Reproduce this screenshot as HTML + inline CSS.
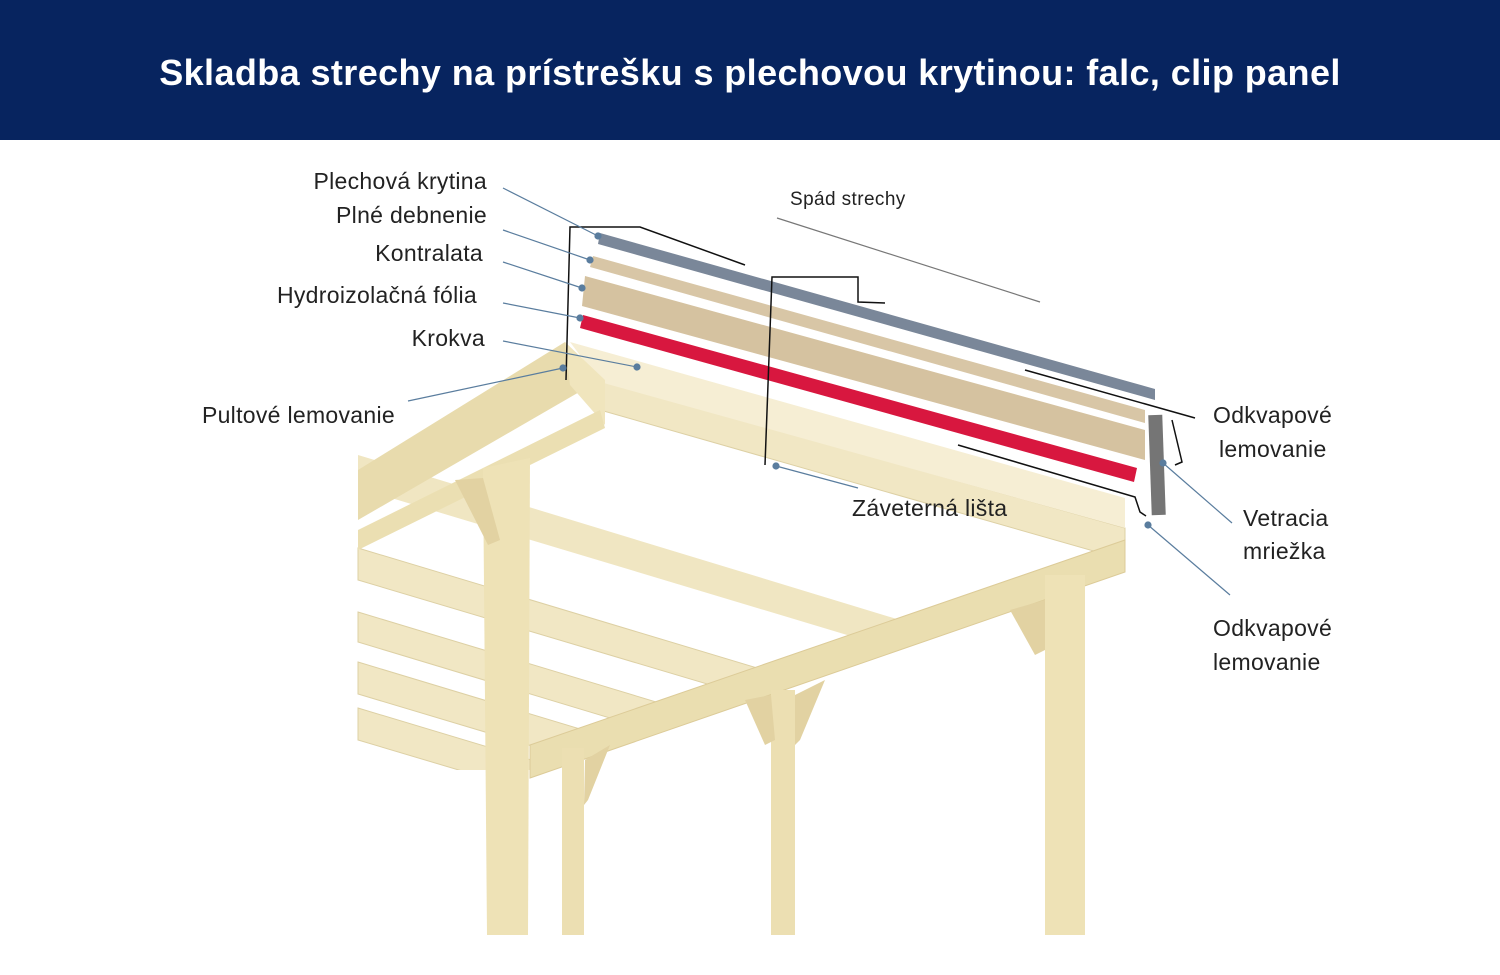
<!DOCTYPE html>
<html><head><meta charset="utf-8"><style>
html,body{margin:0;padding:0;background:#fff}
body{width:1500px;height:975px;overflow:hidden;position:relative;font-family:"Liberation Sans",sans-serif}
.hdr{position:absolute;left:0;top:0;width:1500px;height:140px;background:#07245f;color:#fff;font-weight:bold;font-size:36px;letter-spacing:0.4px;text-align:center;line-height:146px}
svg{position:absolute;left:0;top:0}
.l{font-size:23px;fill:#222;letter-spacing:0.3px}
</style></head><body>
<div class="hdr">Skladba strechy na prístrešku s plechovou krytinou: falc, clip panel</div>
<svg width="1500" height="975">
<defs><clipPath id="c"><polygon points="350,150 1130,150 1130,548 530,770 350,770"/></clipPath></defs>
<g clip-path="url(#c)">
 <polygon points="358,455 1130,690 1130,720 358,488" fill="#f0e6c2"/>
 <polygon points="358,548 1130,780 1130,810 358,580" fill="#f1e7c4" stroke="#ddd0a4"/>
 <polygon points="358,612 1130,845 1130,875 358,642" fill="#f1e7c4" stroke="#ddd0a4"/>
 <polygon points="358,662 1130,895 1130,925 358,694" fill="#f1e7c4" stroke="#ddd0a4"/>
 <polygon points="358,708 1130,940 1130,970 358,740" fill="#f1e7c4" stroke="#ddd0a4"/>
 <polygon points="600,380 1125,528 1125,560 600,410" fill="#f1e7c4" stroke="#ddd0a4"/>
</g>
<polygon points="570,342 1125,498 1125,528 600,382" fill="#f6eed4"/>
<polygon points="358,470 565,342 600,380 358,520" fill="#e8dbad"/>
<polygon points="565,342 605,380 605,425 570,385" fill="#f0e5bd"/>
<polygon points="358,530 600,410 605,428 358,550" fill="#ebdfb2"/>
<polygon points="530,745 1125,540 1125,572 530,778" fill="#eadeb0" stroke="#dccb98"/>
<polygon points="483,468 530,458 528,935 487,935" fill="#eee2b6"/>
<rect x="562" y="748" width="22" height="187" fill="#ecdfb2"/>
<rect x="771" y="690" width="24" height="245" fill="#ecdfb2"/>
<rect x="1045" y="575" width="40" height="360" fill="#eee2b6"/>
<polygon points="455,480 483,478 500,540 488,545" fill="#e2d2a2"/>
<polygon points="745,700 771,695 775,740 765,745" fill="#e2d2a2"/>
<polygon points="795,695 825,680 800,740 795,745" fill="#e2d2a2"/>
<polygon points="1010,610 1045,600 1045,650 1035,655" fill="#e2d2a2"/>
<polygon points="585,760 610,745 588,800 584,805" fill="#e2d2a2"/>
<polygon points="600,233 1155,389 1155,400 598,244" fill="#7a8799"/>
<polygon points="593,256 1145,410 1145,423 590,267" fill="#d8c6a6"/>
<polygon points="585,276 1145,430 1145,460 582,306" fill="#d5c2a0"/>
<polygon points="583,315 1137,468 1134,482 580,328" fill="#d8173f"/>
<rect x="1150" y="415" width="14" height="100" fill="#757575" transform="rotate(-2 1157 465)"/>
<g fill="none" stroke="#111" stroke-width="1.5">
 <polyline points="566,380 570,227 640,227 745,265"/>
 <polyline points="765,465 772,277 858,277 858,302 885,303"/>
 <polyline points="1025,370 1195,418"/>
 <polyline points="1172,420 1182,462 1175,465"/>
 <polyline points="958,445 1135,497 1140,512 1146,516"/>
</g>
<g stroke="#5a7d9e" stroke-width="1.2" fill="#5a7d9e">
 <line x1="503" y1="188" x2="598" y2="236"/><circle cx="598" cy="236" r="3"/>
 <line x1="503" y1="230" x2="590" y2="260"/><circle cx="590" cy="260" r="3"/>
 <line x1="503" y1="262" x2="582" y2="288"/><circle cx="582" cy="288" r="3"/>
 <line x1="503" y1="303" x2="580" y2="318"/><circle cx="580" cy="318" r="3"/>
 <line x1="503" y1="341" x2="637" y2="367"/><circle cx="637" cy="367" r="3"/>
 <line x1="408" y1="401" x2="563" y2="368"/><circle cx="563" cy="368" r="3"/>
 <line x1="777" y1="218" x2="1040" y2="302" stroke="#777"/>
 <line x1="776" y1="466" x2="858" y2="488"/><circle cx="776" cy="466" r="3"/>
 <line x1="1163" y1="463" x2="1232" y2="523"/><circle cx="1163" cy="463" r="3"/>
 <line x1="1148" y1="525" x2="1230" y2="595"/><circle cx="1148" cy="525" r="3"/>
</g>
<text class="l" x="487" y="189" text-anchor="end">Plechová krytina</text>
<text class="l" x="487" y="223" text-anchor="end">Plné debnenie</text>
<text class="l" x="483" y="261" text-anchor="end">Kontralata</text>
<text class="l" x="477" y="303" text-anchor="end">Hydroizolačná fólia</text>
<text class="l" x="485" y="346" text-anchor="end">Krokva</text>
<text class="l" x="395" y="423" text-anchor="end">Pultové lemovanie</text>
<text x="790" y="205" style="font-size:19px;fill:#222;letter-spacing:0.4px">Spád strechy</text>
<text class="l" x="852" y="516">Záveterná lišta</text>
<text class="l" x="1213" y="423">Odkvapové</text>
<text class="l" x="1219" y="457">lemovanie</text>
<text class="l" x="1243" y="526">Vetracia</text>
<text class="l" x="1243" y="559">mriežka</text>
<text class="l" x="1213" y="636">Odkvapové</text>
<text class="l" x="1213" y="670">lemovanie</text>
</svg>
</body></html>
